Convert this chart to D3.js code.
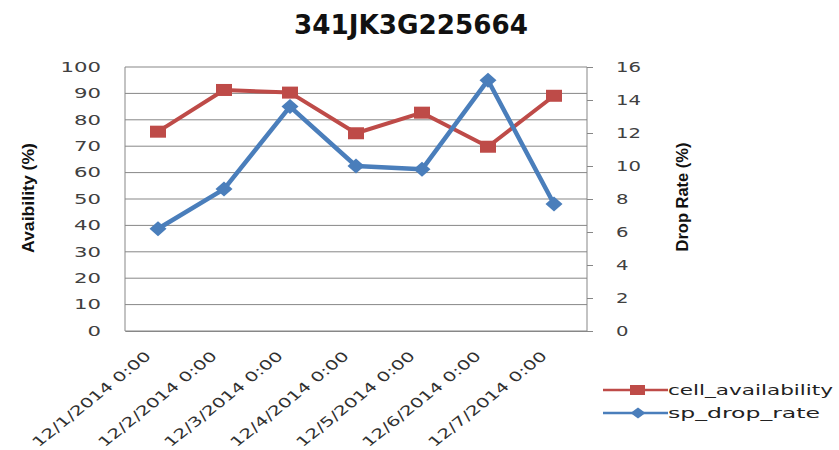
<!DOCTYPE html>
<html><head><meta charset="utf-8">
<script src="https://cdn.jsdelivr.net/npm/d3@7"></script>
<style>body{margin:0;background:#fff}svg{display:block}</style>
</head><body>
<svg id="c" width="839" height="450"></svg>
<script>
const categories = ["12/1/2014 0:00","12/2/2014 0:00","12/3/2014 0:00","12/4/2014 0:00","12/5/2014 0:00","12/6/2014 0:00","12/7/2014 0:00"];
const cellAvailability = [75.5, 91.3, 90.3, 74.9, 82.7, 69.8, 89.1];
const spDropRate = [6.2, 8.6, 13.6, 10.0, 9.8, 15.2, 7.7];
const leftTicks = [0,10,20,30,40,50,60,70,80,90,100];
const rightTicks = [0,2,4,6,8,10,12,14,16];
const title = "341JK3G225664";

const svg = d3.select("#c");
const L = 125, R = 587, T = 67, B = 331;
const x = d3.scaleBand().domain(categories).range([L, R]);
const yL = d3.scaleLinear().domain([0,100]).range([B, T]);
const yR = d3.scaleLinear().domain([0,16]).range([B, T]);
const red = "#BE4B48", blue = "#4A7EBB", grid = "#878787";
const font = "DejaVu Sans, Verdana, sans-serif";

// title
svg.append("text").attr("x", 294).attr("y", 34)
  .attr("font-family","DejaVu Sans, sans-serif").attr("font-weight","bold").attr("font-size",26)
  .attr("textLength",234).attr("lengthAdjust","spacingAndGlyphs")
  .attr("fill","#111").text(title);

// gridlines
svg.append("g").selectAll("line").data(leftTicks).join("line")
  .attr("x1", L).attr("x2", R).attr("y1", d=>yL(d)).attr("y2", d=>yL(d))
  .attr("stroke", grid).attr("stroke-width", 1);
svg.append("line").attr("x1",L).attr("x2",L).attr("y1",T).attr("y2",B).attr("stroke",grid);

// left axis
const gl = svg.append("g").attr("transform",`translate(${L},0)`)
  .call(d3.axisLeft(yL).tickValues(leftTicks).tickSize(0).tickPadding(24));
gl.select(".domain").remove();
gl.selectAll("text").attr("font-family",font).attr("font-size",13.5).attr("fill","#404040")
  .attr("textLength", d => String(d).length*13.5).attr("lengthAdjust","spacingAndGlyphs");

// right axis
const gr = svg.append("g").attr("transform",`translate(${R},0)`)
  .call(d3.axisRight(yR).tickValues(rightTicks).tickSize(6).tickPadding(23));
gr.select(".domain").attr("stroke",grid).attr("d",`M0,${T}V${B}`);
gr.selectAll("line").attr("stroke",grid);
gr.selectAll("text").attr("font-family",font).attr("font-size",13.5).attr("fill","#404040")
  .attr("textLength", d => String(d).length*12.5).attr("lengthAdjust","spacingAndGlyphs");

// x axis labels
const gx = svg.append("g").attr("transform",`translate(0,${B})`)
  .call(d3.axisBottom(x).tickSize(0).tickPadding(0));
gx.select(".domain").attr("stroke",grid);
gx.selectAll("text").attr("font-family",font).attr("font-size",13).attr("fill","#303030")
  .attr("text-anchor","end").attr("dy",0).attr("y",0).attr("x",0)
  .attr("textLength",128).attr("lengthAdjust","spacingAndGlyphs")
  .attr("transform","translate(-6,26) scale(1.25,1) rotate(-45)");

// axis titles
const titleFont = "Liberation Sans, Arial, sans-serif";
svg.append("text").attr("transform","translate(34,198) rotate(-90)").attr("text-anchor","middle")
  .attr("font-family",titleFont).attr("font-weight","bold")
  .attr("font-size",16).attr("textLength",110).attr("lengthAdjust","spacingAndGlyphs")
  .attr("fill","#111").text("Avaibility (%)");
svg.append("text").attr("transform","translate(688,197) rotate(-90)").attr("text-anchor","middle")
  .attr("font-family",titleFont).attr("font-weight","bold")
  .attr("font-size",16).attr("textLength",109).attr("lengthAdjust","spacingAndGlyphs")
  .attr("fill","#111").text("Drop Rate (%)");

const cx = d => x(d) + x.bandwidth()/2;
const diamond = (w,h) => `M0,${-h/2}L${w/2},0L0,${h/2}L${-w/2},0Z`;

// red line
svg.append("path").datum(cellAvailability)
  .attr("d", d3.line().x((d,i)=>cx(categories[i])).y(d=>yL(d)))
  .attr("fill","none").attr("stroke",red).attr("stroke-width",4).attr("stroke-linejoin","round");
svg.append("g").selectAll("rect").data(cellAvailability).join("rect")
  .attr("x",(d,i)=>cx(categories[i])-8).attr("y",d=>yL(d)-6).attr("width",16).attr("height",12)
  .attr("fill",red);

// blue line
svg.append("path").datum(spDropRate)
  .attr("d", d3.line().x((d,i)=>cx(categories[i])).y(d=>yR(d)))
  .attr("fill","none").attr("stroke",blue).attr("stroke-width",4.5).attr("stroke-linejoin","round");
svg.append("g").selectAll("path").data(spDropRate).join("path")
  .attr("d", diamond(17,15))
  .attr("transform",(d,i)=>`translate(${cx(categories[i])},${yR(d)})`)
  .attr("fill",blue);

// legend
const leg = svg.append("g");
const items = [{name:"cell_availability", color:red, sym:"sq", y:390, w:165},{name:"sp_drop_rate", color:blue, sym:"di", y:413, w:152}];
items.forEach(it=>{
  leg.append("line").attr("x1",603).attr("x2",668).attr("y1",it.y).attr("y2",it.y)
    .attr("stroke",it.color).attr("stroke-width",2.5);
  if(it.sym==="sq") leg.append("rect").attr("x",630).attr("y",it.y-5).attr("width",15).attr("height",10).attr("fill",it.color);
  else leg.append("path").attr("d",diamond(15,11)).attr("transform",`translate(638,${it.y})`).attr("fill",it.color);
  leg.append("text").attr("x",668).attr("y",it.y+5).attr("font-family",font).attr("font-size",14.5)
    .attr("textLength",it.w).attr("lengthAdjust","spacingAndGlyphs")
    .attr("fill","#222").text(it.name);
});
</script>
</body></html>
